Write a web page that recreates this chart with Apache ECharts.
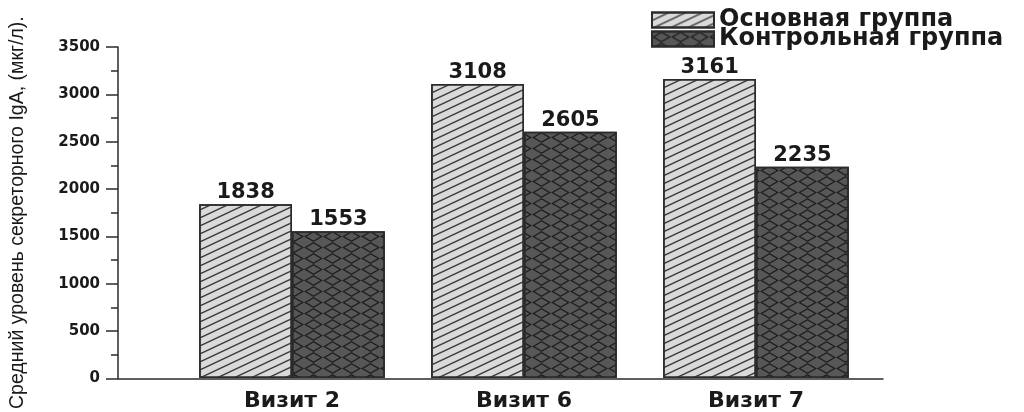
<!DOCTYPE html>
<html>
<head>
<meta charset="utf-8">
<title>Секреторный IgA по визитам</title>
<script src="https://cdn.jsdelivr.net/npm/echarts@6/dist/echarts.min.js"></script>
<style>
  html, body { margin: 0; padding: 0; background: #ffffff; }
  #chart { width: 1024px; height: 412px; }
</style>
</head>
<body>
<div id="chart"></div>
<script>
// Visits on the horizontal axis
const categories = ['Визит 2', 'Визит 6', 'Визит 7'];
// Mean secretory IgA level, µg/l
const mainGroup = [1838, 3108, 3161];
const controlGroup = [1553, 2605, 2235];
const seriesNames = ['Основная группа', 'Контрольная группа'];
// Value axis range and step
const yMin = 0;
const yMax = 3500;
const yStep = 500;
const yTitle = 'Средний уровень секреторного IgA, (мкг/л).';

const INK = '#1a1a1a';
const AXIS = '#2b2b2b';
const WIDE = 'DejaVu Sans, Verdana, sans-serif';
const ARIAL = 'Liberation Sans, Arial, sans-serif';

// Single diagonal hatch tile (17 x 8): one rising stroke, joined across tiles
const hatchSingle = 'path://M0,7.2L15.3,0L17,0L17,0.8L1.7,8L0,8Z M0,0L1.7,0L0,0.8Z M17,8L15.3,8L17,7.2Z';
// Cross hatch tile (19 x 11): diamond ring, adjacent tiles form a lattice
const hatchCross = 'path://M0,5.5L9.5,0L19,5.5L9.5,11Z M2.6,5.5L9.5,9.5L16.4,5.5L9.5,1.5Z';

const styleMain = {
  color: '#dadada',
  borderColor: AXIS,
  borderWidth: 1.5,
  decal: {
    symbol: hatchSingle,
    symbolSize: 1,
    symbolKeepAspect: false,
    dashArrayX: [17, 0],
    dashArrayY: [8, 0],
    color: '#3a3a3a'
  }
};
const styleControl = {
  color: '#575757',
  borderColor: AXIS,
  borderWidth: 1.5,
  decal: {
    symbol: hatchCross,
    symbolSize: 1,
    symbolKeepAspect: false,
    dashArrayX: [19, 0],
    dashArrayY: [11, 0],
    color: '#1f1f1f'
  }
};

const valueLabel = {
  show: true,
  position: 'top',
  distance: 1,
  fontFamily: WIDE,
  fontWeight: 'bold',
  fontSize: 21,
  color: INK
};

const legendBase = {
  left: 651,
  orient: 'vertical',
  padding: 0,
  icon: 'rect',
  itemWidth: 62,
  itemHeight: 15,
  selectedMode: false,
  textStyle: { fontFamily: WIDE, fontWeight: 'bold', fontSize: 24, color: INK }
};

const chart = echarts.init(document.getElementById('chart'), null, { renderer: 'canvas' });

chart.setOption({
  animation: false,
  backgroundColor: '#ffffff',
  legend: [
    Object.assign({}, legendBase, { top: 8, data: [seriesNames[0]] }),
    Object.assign({}, legendBase, { top: 27, data: [seriesNames[1]] })
  ],
  grid: [
    // frame grid: carries the visible value axis and the full-length base line
    { left: 118, right: 141, top: 47, bottom: 30 },
    // plotting grid: category bands for the bars
    { left: 176, right: 152, top: 47, bottom: 30 }
  ],
  xAxis: [
    {
      gridIndex: 0,
      type: 'value',
      min: 0,
      max: 1,
      axisLine: { show: true, lineStyle: { color: AXIS, width: 1.5 } },
      axisTick: { show: false },
      axisLabel: { show: false },
      splitLine: { show: false }
    },
    {
      gridIndex: 1,
      type: 'category',
      data: categories,
      axisLine: { show: false },
      axisTick: { show: false },
      axisLabel: {
        margin: 12,
        fontFamily: WIDE,
        fontWeight: 'bold',
        fontSize: 22,
        color: INK
      }
    }
  ],
  yAxis: [
    {
      gridIndex: 0,
      type: 'value',
      min: yMin,
      max: yMax,
      interval: yStep,
      name: yTitle,
      nameLocation: 'middle',
      nameRotate: 90,
      nameGap: 90,
      nameTextStyle: { fontFamily: ARIAL, fontSize: 19.5, color: INK },
      axisLine: { show: true, lineStyle: { color: AXIS, width: 1.5 } },
      axisTick: { show: true, length: 12, lineStyle: { color: AXIS, width: 1.5 } },
      minorTick: { show: true, splitNumber: 2, length: 7, lineStyle: { color: AXIS, width: 1.5 } },
      axisLabel: {
        margin: 18,
        fontFamily: WIDE,
        fontWeight: 'bold',
        fontSize: 15,
        color: INK,
        formatter: function (v) { return String(v); }
      },
      splitLine: { show: false }
    },
    {
      gridIndex: 1,
      type: 'value',
      min: yMin,
      max: yMax,
      interval: yStep,
      show: false
    }
  ],
  series: [
    {
      name: seriesNames[0],
      type: 'bar',
      xAxisIndex: 1,
      yAxisIndex: 1,
      data: mainGroup,
      barGap: '0%',
      barCategoryGap: '20%',
      itemStyle: styleMain,
      label: valueLabel
    },
    {
      name: seriesNames[1],
      type: 'bar',
      xAxisIndex: 1,
      yAxisIndex: 1,
      data: controlGroup,
      barGap: '0%',
      barCategoryGap: '20%',
      itemStyle: styleControl,
      label: valueLabel
    }
  ]
});
</script>
</body>
</html>
